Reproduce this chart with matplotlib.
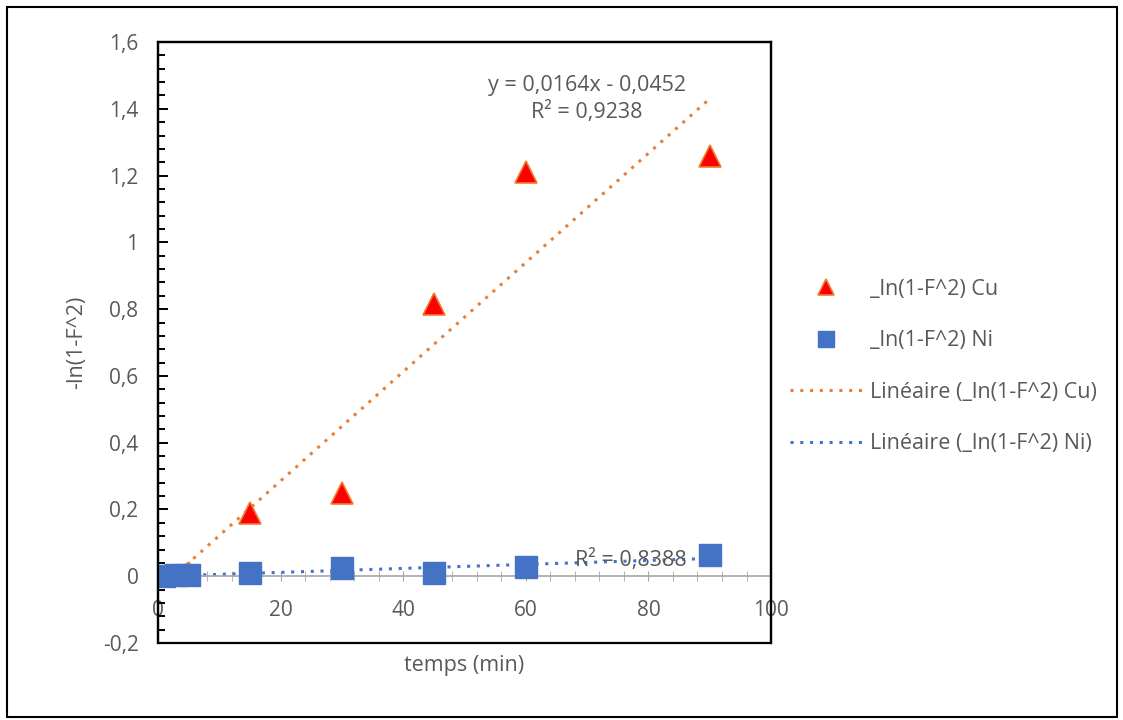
import numpy as np
import matplotlib.pyplot as plt
from matplotlib.ticker import MultipleLocator, FuncFormatter
from matplotlib.patches import Rectangle

plt.rcParams['font.family'] = ['Open Sans', 'DejaVu Sans']

# données
temps = [1, 3, 5, 15, 30, 45, 60, 90]
cu = [0.0, 0.005, 0.01, 0.19, 0.25, 0.815, 1.21, 1.26]
ni = [0.0, 0.004, 0.004, 0.011, 0.025, 0.011, 0.028, 0.063]

lab_cu = '_ln(1-F^2) Cu'
lab_ni = '_ln(1-F^2) Ni'
eq_cu = 'y = 0,0164x - 0,0452\nR² = 0,9238'
eq_ni = 'R² = 0,8388'

orange = '#ED7D31'
bleu = '#4472C4'
gris = '#595959'

fig = plt.figure(figsize=(11.23, 7.2), dpi=100)
fig.patches.append(Rectangle((0.006, 0.004), 0.989, 0.986, transform=fig.transFigure,
                             fill=False, edgecolor='black', linewidth=1.5))
ax = fig.add_axes([0.1407, 0.1069, 0.5459, 0.8347])

x = np.array(temps, dtype=float)
pc = np.polyfit(x, cu, 1)
pn = np.polyfit(x, ni, 1)
xl = np.array([x.min(), x.max()])

l_cu, = ax.plot(xl, np.polyval(pc, xl), linestyle=(0, (1, 2.2)), color=orange,
                linewidth=2.2, zorder=2)
l_ni, = ax.plot(xl, np.polyval(pn, xl), linestyle=(0, (1, 2.2)), color=bleu,
                linewidth=2.2, zorder=2)
m_cu, = ax.plot(temps, cu, linestyle='none', marker='^', markersize=16,
                markerfacecolor='red', markeredgecolor=orange, markeredgewidth=1.2, zorder=3)
m_ni, = ax.plot(temps, ni, linestyle='none', marker='s', markersize=16,
                markerfacecolor=bleu, markeredgecolor=bleu, zorder=4)

ax.set_xlim(0, 100)
ax.set_ylim(-0.2, 1.6)

fmt = FuncFormatter(lambda v, p: ('%g' % round(v, 4)).replace('.', ','))
ax.xaxis.set_major_locator(MultipleLocator(20))
ax.xaxis.set_minor_locator(MultipleLocator(4))
ax.yaxis.set_major_locator(MultipleLocator(0.2))
ax.yaxis.set_minor_locator(MultipleLocator(0.04))
ax.xaxis.set_major_formatter(fmt)
ax.yaxis.set_major_formatter(fmt)

for s in ['top', 'right', 'left']:
    ax.spines[s].set_linewidth(1.6)
    ax.spines[s].set_color('black')
ax.spines['bottom'].set_position(('data', 0))
ax.spines['bottom'].set_color('#A6A6A6')
ax.spines['bottom'].set_linewidth(1.2)
ax.add_patch(Rectangle((0, 0), 1, 1, transform=ax.transAxes, fill=False,
                       edgecolor='black', linewidth=1.6, clip_on=False, zorder=5))

ax.tick_params(axis='x', which='both', direction='inout', color='#A6A6A6',
               labelsize=15, labelcolor=gris, pad=13.5)
ax.tick_params(axis='x', which='major', length=7)
ax.tick_params(axis='x', which='minor', length=7)
ax.tick_params(axis='y', which='both', direction='in', color='black', width=1.4,
               labelsize=15, labelcolor=gris, pad=14)
ax.tick_params(axis='y', which='major', length=7)
ax.tick_params(axis='y', which='minor', length=5)

ax.set_xlabel('temps (min)', fontsize=15.5, color=gris)
ax.xaxis.set_label_coords(0.5, -0.02)
ax.set_ylabel('-ln(1-F^2)', fontsize=15.5, color=gris, labelpad=11)

ax.text(70, 1.43, eq_cu, ha='center', va='center', fontsize=15.5, color=gris,
        linespacing=1.3)
ax.text(77.2, 0.048, eq_ni, ha='center', va='center', fontsize=15.5, color=gris, zorder=3)

leg = fig.legend([m_cu, m_ni, l_cu, l_ni],
                 [lab_cu, lab_ni, 'Linéaire (' + lab_cu + ')', 'Linéaire (' + lab_ni + ')'],
                 loc='center left', bbox_to_anchor=(0.686, 0.491), frameon=False,
                 fontsize=15.5, labelspacing=1.42, handlelength=3.35, handletextpad=0.4,
                 markerscale=0.7)
for t in leg.get_texts():
    t.set_color(gris)

fig.savefig('out.png', dpi=100)
